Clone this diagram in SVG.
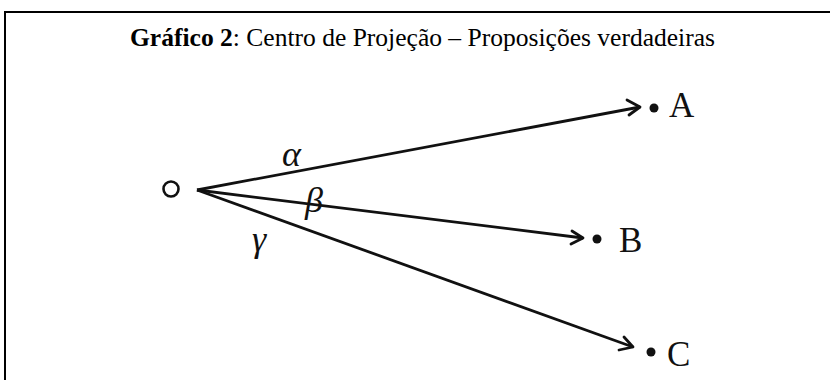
<svg xmlns="http://www.w3.org/2000/svg" width="830" height="380" viewBox="0 0 830 380">
<defs>
<style>
.frame{fill:none;stroke:#000;stroke-width:2}
.ray{fill:none;stroke:#111;stroke-width:2.8}
.head{fill:none;stroke:#111;stroke-width:2.8;stroke-linecap:round;stroke-linejoin:round}
.title{font-family:"Liberation Serif",serif;font-size:25px;fill:#000}
.pt{font-family:"Liberation Serif",serif;font-size:35px;fill:#111}
.gr{font-family:"Liberation Serif",serif;font-style:italic;font-size:36px;fill:#111}
</style>
</defs>
<rect width="830" height="380" fill="#fff"/>
<path class="frame" d="M5,380 V12 H830"/>
<text class="title" x="130" y="46" textLength="585" lengthAdjust="spacingAndGlyphs"><tspan font-weight="bold">Gráfico 2</tspan>: Centro de Projeção – Proposições verdadeiras</text>
<g id="O"><circle cx="171" cy="189" r="7.5" fill="none" stroke="#111" stroke-width="2.6"/></g>
<g id="connectors">
<line class="ray" x1="197" y1="190" x2="640" y2="107"/>
<path class="head" d="M627,100 L640,107 L629,115"/>
<line class="ray" x1="197" y1="190" x2="583" y2="238"/>
<path class="head" d="M572,231 L583,238 L571,244"/>
<line class="ray" x1="197" y1="190" x2="633" y2="347"/>
<path class="head" d="M624,337 L633,347 L619,350"/>
</g>
<g id="A"><circle cx="654" cy="108" r="4.5" fill="#111"/><text class="pt" x="669" y="117">A</text></g>
<g id="B"><circle cx="597" cy="239" r="4.5" fill="#111"/><text class="pt" x="619" y="252">B</text></g>
<g id="C"><circle cx="651" cy="352" r="4.5" fill="#111"/><text class="pt" x="667" y="366">C</text></g>
<text class="gr" x="282" y="166">α</text>
<text class="gr" x="305" y="212">β</text>
<text class="gr" x="252" y="251">γ</text>
</svg>
